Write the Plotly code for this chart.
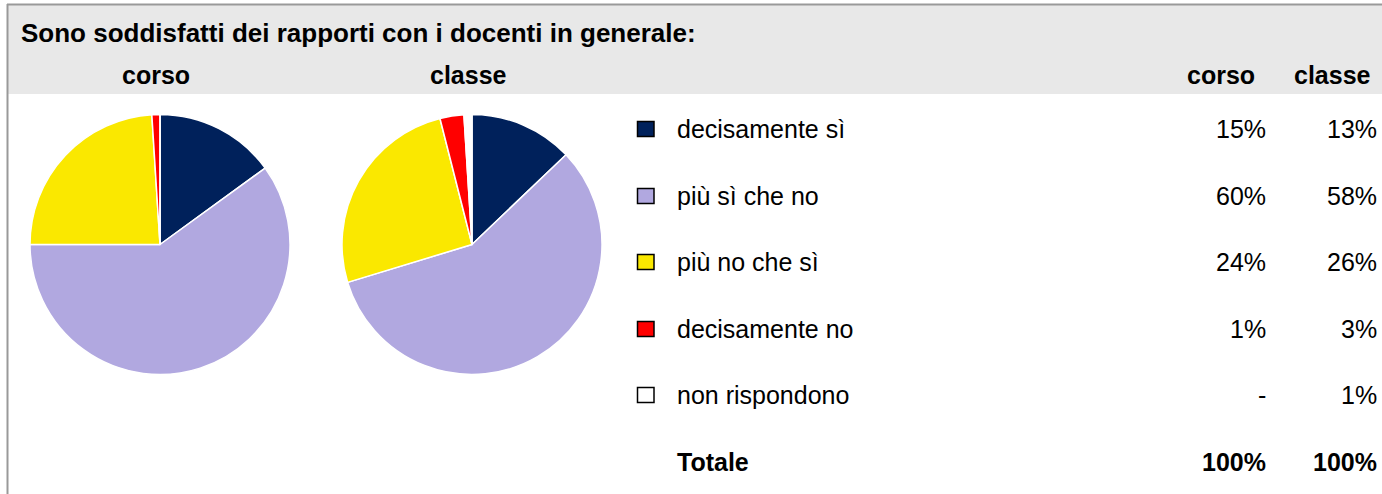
import plotly.graph_objects as go

categories = ["decisamente sì", "più sì che no", "più no che sì", "decisamente no", "non rispondono"]
corso_values = [15, 60, 24, 1, 0]
classe_values = [13, 58, 26, 3, 1]
corso_labels = ["15%", "60%", "24%", "1%", "-"]
classe_labels = ["13%", "58%", "26%", "3%", "1%"]
total_label = ["Totale", "100%", "100%"]
colors = ["#00215B", "#B1A8E0", "#FAE800", "#FF0000", "#FFFFFF"]
title_text = "Sono soddisfatti dei rapporti con i docenti in generale:"

W, H = 1382, 494
FONT = "Liberation Sans, Arial, sans-serif"
FS = 25

def px(x):
    return x / W

def py(y):
    return (H - y) / H

fig = go.Figure()

def add_pie(vals, cx, cy, r):
    fig.add_trace(go.Pie(
        labels=categories, values=vals, sort=False, direction="clockwise", rotation=0,
        marker=dict(colors=colors, line=dict(color="white", width=1.5)),
        textinfo="none", hoverinfo="label+percent", showlegend=False,
        domain=dict(x=[px(cx - r), px(cx + r)], y=[py(cy + r), py(cy - r)]),
    ))

add_pie(corso_values, 160, 244.5, 130)
add_pie(classe_values, 472, 244.5, 130)

shapes = []
shapes.append(dict(type="rect", xref="paper", yref="paper", x0=px(8), x1=1, y0=py(94), y1=py(5),
                   fillcolor="#E8E8E8", line=dict(width=0), layer="below"))
shapes.append(dict(type="line", xref="paper", yref="paper", x0=px(7), x1=1, y0=py(4.5), y1=py(4.5),
                   line=dict(color="#999999", width=2)))
shapes.append(dict(type="line", xref="paper", yref="paper", x0=px(7.5), x1=px(7.5), y0=0, y1=py(4),
                   line=dict(color="#999999", width=2)))

annotations = []
annotations.append(dict(text="<b>" + title_text + "</b>", x=px(19), y=py(33), xref="paper", yref="paper",
                        xanchor="left", yanchor="middle", showarrow=False,
                        font=dict(family=FONT, size=26, color="black")))
for txt, x, anchor in [("corso", 156, "center"), ("classe", 468, "center"),
                       ("corso", 1257, "right"), ("classe", 1373, "right")]:
    annotations.append(dict(text="<b>" + txt + "</b>", x=px(x), y=py(75), xref="paper", yref="paper",
                            xanchor=anchor, yanchor="middle", showarrow=False,
                            font=dict(family=FONT, size=FS, color="black")))

row_y = [129, 196, 262, 329, 395]
for i, cat in enumerate(categories):
    y = row_y[i]
    shapes.append(dict(type="rect", xref="paper", yref="paper", x0=px(637.5), x1=px(654),
                       y0=py(y + 7.5), y1=py(y - 7.5), fillcolor=colors[i],
                       line=dict(color="black", width=1.5)))
    annotations.append(dict(text=cat, x=px(675), y=py(y), xref="paper", yref="paper",
                            xanchor="left", yanchor="middle", showarrow=False,
                            font=dict(family=FONT, size=FS, color="black")))
    annotations.append(dict(text=corso_labels[i], x=px(1268), y=py(y), xref="paper", yref="paper",
                            xanchor="right", yanchor="middle", showarrow=False,
                            font=dict(family=FONT, size=FS, color="black")))
    annotations.append(dict(text=classe_labels[i], x=px(1379), y=py(y), xref="paper", yref="paper",
                            xanchor="right", yanchor="middle", showarrow=False,
                            font=dict(family=FONT, size=FS, color="black")))

ty = 462
annotations.append(dict(text="<b>" + total_label[0] + "</b>", x=px(675), y=py(ty), xref="paper", yref="paper",
                        xanchor="left", yanchor="middle", showarrow=False,
                        font=dict(family=FONT, size=FS, color="black")))
annotations.append(dict(text="<b>" + total_label[1] + "</b>", x=px(1268), y=py(ty), xref="paper", yref="paper",
                        xanchor="right", yanchor="middle", showarrow=False,
                        font=dict(family=FONT, size=FS, color="black")))
annotations.append(dict(text="<b>" + total_label[2] + "</b>", x=px(1379), y=py(ty), xref="paper", yref="paper",
                        xanchor="right", yanchor="middle", showarrow=False,
                        font=dict(family=FONT, size=FS, color="black")))

fig.update_layout(
    width=W, height=H, margin=dict(l=0, r=0, t=0, b=0),
    paper_bgcolor="white", plot_bgcolor="white",
    shapes=shapes, annotations=annotations, showlegend=False,
)

fig.write_html("out.html", config={"displayModeBar": False},
               post_script="document.body.style.margin='0';document.body.style.overflow='hidden';")
